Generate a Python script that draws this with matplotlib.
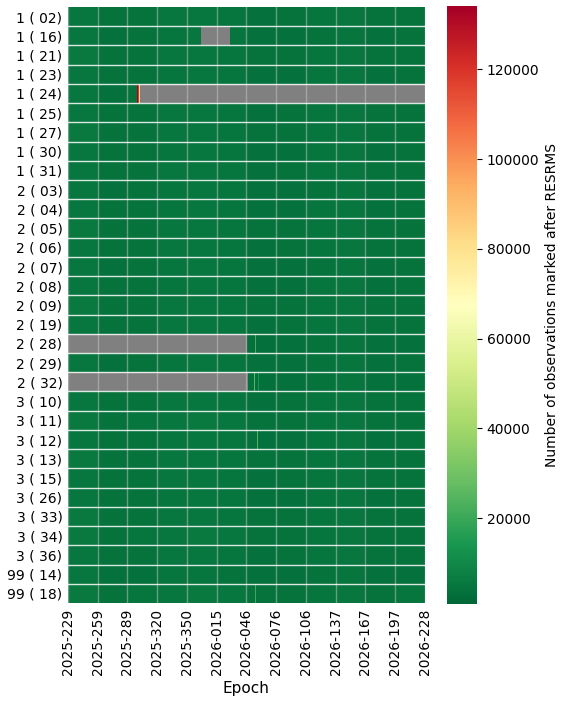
import numpy as np
import matplotlib
matplotlib.use("Agg")
import matplotlib.pyplot as plt

# satellites (rows)
satellites = ["1 ( 02)", "1 ( 16)", "1 ( 21)", "1 ( 23)", "1 ( 24)", "1 ( 25)",
              "1 ( 27)", "1 ( 30)", "1 ( 31)", "2 ( 03)", "2 ( 04)", "2 ( 05)",
              "2 ( 06)", "2 ( 07)", "2 ( 08)", "2 ( 09)", "2 ( 19)", "2 ( 28)",
              "2 ( 29)", "2 ( 32)", "3 ( 10)", "3 ( 11)", "3 ( 12)", "3 ( 13)",
              "3 ( 15)", "3 ( 26)", "3 ( 33)", "3 ( 34)", "3 ( 36)", "99 ( 14)",
              "99 ( 18)"]

N_DAYS = 365  # 2025-229 .. 2026-228
epoch_ticks = ["2025-229", "2025-259", "2025-289", "2025-320", "2025-350",
               "2026-015", "2026-046", "2026-076", "2026-106", "2026-137",
               "2026-167", "2026-197", "2026-228"]

# typical count per satellite (estimated from the colour)
row_level = [4600, 4400, 4700, 4500, 4400, 4600, 4700, 4500, 4600, 4400,
             4500, 4700, 4600, 4400, 4500, 4700, 4600, 4000, 4400, 4000,
             4600, 4800, 4500, 4700, 4600, 4500, 4700, 4800, 4600, 4200,
             4900]

# lighter / darker stretches between the epoch ticks
block_start = [0, 30, 61, 91, 121, 152, 182, 212, 243, 273, 303, 334]
block_shift = [900, -400, -200, 500, 800, 300, -600, -500, 100, 600, -500, -300]

# days without data: (satellite, first day index, last day index)
gaps = [("1 ( 16)", 136, 165),
        ("1 ( 24)", 74, 364),
        ("2 ( 28)", 0, 182),
        ("2 ( 32)", 0, 183)]

# single days that stand out: (satellite, day index, count)
spikes = [("1 ( 24)", 71, 134000),
          ("1 ( 24)", 72, 118000),
          ("1 ( 24)", 73, 82000),
          ("2 ( 28)", 191, 22000),
          ("2 ( 32)", 190, 26000),
          ("2 ( 32)", 194, 14000),
          ("3 ( 12)", 193, 24000),
          ("99 ( 18)", 191, 21000)]

VMIN, VMAX = 900, 134000

# build the matrix
shift = np.zeros(N_DAYS)
for k, s in enumerate(block_start):
    shift[s:] = block_shift[k]
data = np.array(row_level, dtype=float)[:, None] + shift[None, :]
for sat, a, b in gaps:
    data[satellites.index(sat), a:b + 1] = np.nan
for sat, d, v in spikes:
    data[satellites.index(sat), d] = v

fig = plt.figure(figsize=(5.62, 7.03), dpi=100)
ax = fig.add_axes([0.121, 0.1422, 0.635, 0.848])
cax = fig.add_axes([0.795, 0.1408, 0.0534, 0.850])

cmap = plt.get_cmap("RdYlGn_r").copy()
cmap.set_bad("gray")
mesh = ax.pcolormesh(np.arange(N_DAYS + 1), np.arange(len(satellites) + 1),
                     np.ma.masked_invalid(data), cmap=cmap, vmin=VMIN, vmax=VMAX)
ax.set_xlim(0, N_DAYS)
ax.set_ylim(len(satellites), 0)

xt = np.linspace(0, N_DAYS, len(epoch_ticks))
ax.set_xticks(xt)
ax.set_xticklabels(epoch_ticks, rotation=90, fontsize=10)
ax.set_yticks(np.arange(len(satellites)) + 0.5)
ax.set_yticklabels(satellites, fontsize=10)
ax.tick_params(length=0, pad=4)
ax.set_xlabel("Epoch", fontsize=11)

for x in xt:
    ax.axvline(x, color="#c8c8c8", lw=1, alpha=0.5)
for y in range(1, len(satellites)):
    ax.axhline(y, color="white", lw=1, alpha=0.85)
for sp in ax.spines.values():
    sp.set_visible(False)

cb = fig.colorbar(mesh, cax=cax)
cb.outline.set_visible(False)
cb.set_ticks([20000, 40000, 60000, 80000, 100000, 120000])
cb.ax.tick_params(labelsize=10)
cb.set_label("Number of observations marked after RESRMS", fontsize=10)

fig.savefig("out.png", dpi=100)
